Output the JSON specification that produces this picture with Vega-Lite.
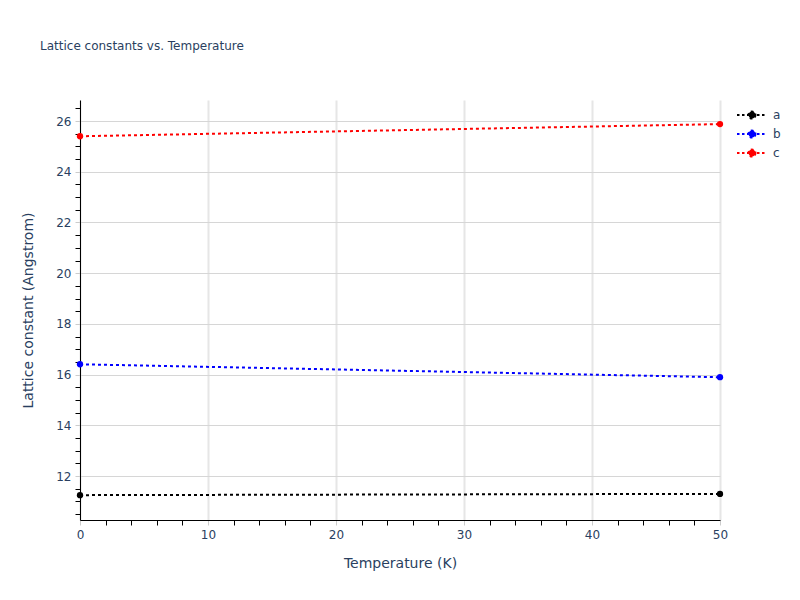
{
  "$schema": "https://vega.github.io/schema/vega-lite/v6.json",
  "width": 640,
  "height": 420,
  "autosize": {"type": "none"},
  "padding": {"left": 80, "top": 100, "right": 80, "bottom": 80},
  "background": "white",
  "title": {
    "text": "Lattice constants vs. Temperature",
    "anchor": "start",
    "frame": "group",
    "dx": -40,
    "offset": 47,
    "font": "DejaVu Sans",
    "fontSize": 12,
    "fontWeight": "normal",
    "color": "#2a3f5f"
  },
  "data": {
    "values": [
      {"T": 0, "value": 11.25, "param": "a"},
      {"T": 50, "value": 11.3, "param": "a"},
      {"T": 0, "value": 16.41, "param": "b"},
      {"T": 50, "value": 15.9, "param": "b"},
      {"T": 0, "value": 25.4, "param": "c"},
      {"T": 50, "value": 25.88, "param": "c"}
    ]
  },
  "encoding": {
    "x": {
      "field": "T",
      "type": "quantitative",
      "scale": {"domain": [0, 50], "nice": false, "zero": false},
      "title": "Temperature (K)"
    },
    "y": {
      "field": "value",
      "type": "quantitative",
      "scale": {"domain": [10.27, 26.83], "nice": false, "zero": false},
      "title": "Lattice constant (Angstrom)"
    },
    "color": {
      "field": "param",
      "type": "nominal",
      "scale": {"domain": ["a", "b", "c"], "range": ["black", "blue", "red"]}
    }
  },
  "layer": [
    {
      "mark": {"type": "line", "strokeDash": [3, 3], "strokeWidth": 2},
      "encoding": {
        "x": {
          "field": "T",
          "type": "quantitative",
          "axis": {
            "orient": "bottom",
            "values": [2, 4, 6, 8, 12, 14, 16, 18, 22, 24, 26, 28, 32, 34, 36, 38, 42, 44, 46, 48],
            "labels": false,
            "grid": false,
            "domain": false,
            "title": null,
            "tickColor": "black",
            "tickSize": 5
          }
        },
        "y": {
          "field": "value",
          "type": "quantitative",
          "axis": {
            "orient": "left",
            "values": [10.5, 11, 11.5, 12.5, 13, 13.5, 14.5, 15, 15.5, 16.5, 17, 17.5, 18.5, 19, 19.5, 20.5, 21, 21.5, 22.5, 23, 23.5, 24.5, 25, 25.5, 26.5],
            "labels": false,
            "grid": false,
            "domain": false,
            "title": null,
            "tickColor": "black",
            "tickSize": 5
          }
        },
        "color": {
          "field": "param",
          "type": "nominal",
          "legend": {
            "orient": "none",
            "legendX": 661,
            "legendY": 4,
            "title": null,
            "symbolType": "M-1.5,0H1.5M0.35,0A0.35,0.35 0 1 1 -0.35,0A0.35,0.35 0 1 1 0.35,0",
            "symbolSize": 400,
            "symbolStrokeWidth": 2,
            "symbolDash": [2.5, 2.5],
            "rowPadding": 0,
            "labelFont": "DejaVu Sans",
            "labelFontSize": 12,
            "labelColor": "#2a3f5f",
            "labelOffset": 10,
            "encode": {
              "symbols": {"update": {"fill": {"scale": "color", "field": "value"}}}
            }
          }
        }
      }
    },
    {
      "mark": {"type": "point", "filled": true, "size": 40, "opacity": 1},
      "encoding": {
        "x": {
          "field": "T",
          "type": "quantitative",
          "axis": {
            "orient": "bottom",
            "values": [0, 10, 20, 30, 40, 50],
            "labelFlush": false,
            "grid": true,
            "gridColor": "#e6e6e6",
            "gridWidth": 2,
            "domainColor": "black",
            "tickColor": "#cccccc",
            "tickSize": 5,
            "labelFont": "DejaVu Sans",
            "labelFontSize": 12,
            "labelColor": "#2a3f5f",
            "labelPadding": 4,
            "titleFont": "DejaVu Sans",
            "titleFontSize": 14,
            "titleFontWeight": "normal",
            "titleColor": "#2a3f5f",
            "titlePadding": 16
          }
        },
        "y": {
          "field": "value",
          "type": "quantitative",
          "axis": {
            "orient": "left",
            "values": [12, 14, 16, 18, 20, 22, 24, 26],
            "labelFlush": false,
            "grid": true,
            "gridColor": "#d6d6d6",
            "gridWidth": 1,
            "domainColor": "black",
            "tickColor": "#cccccc",
            "tickSize": 5,
            "labelFont": "DejaVu Sans",
            "labelFontSize": 12,
            "labelColor": "#2a3f5f",
            "labelPadding": 4,
            "titleFont": "DejaVu Sans",
            "titleFontSize": 14,
            "titleFontWeight": "normal",
            "titleColor": "#2a3f5f",
            "titlePadding": 20
          }
        },
        "color": {"field": "param", "type": "nominal", "legend": null}
      }
    }
  ],
  "resolve": {"axis": {"x": "independent", "y": "independent"}},
  "config": {
    "view": {"stroke": null}
  }
}
